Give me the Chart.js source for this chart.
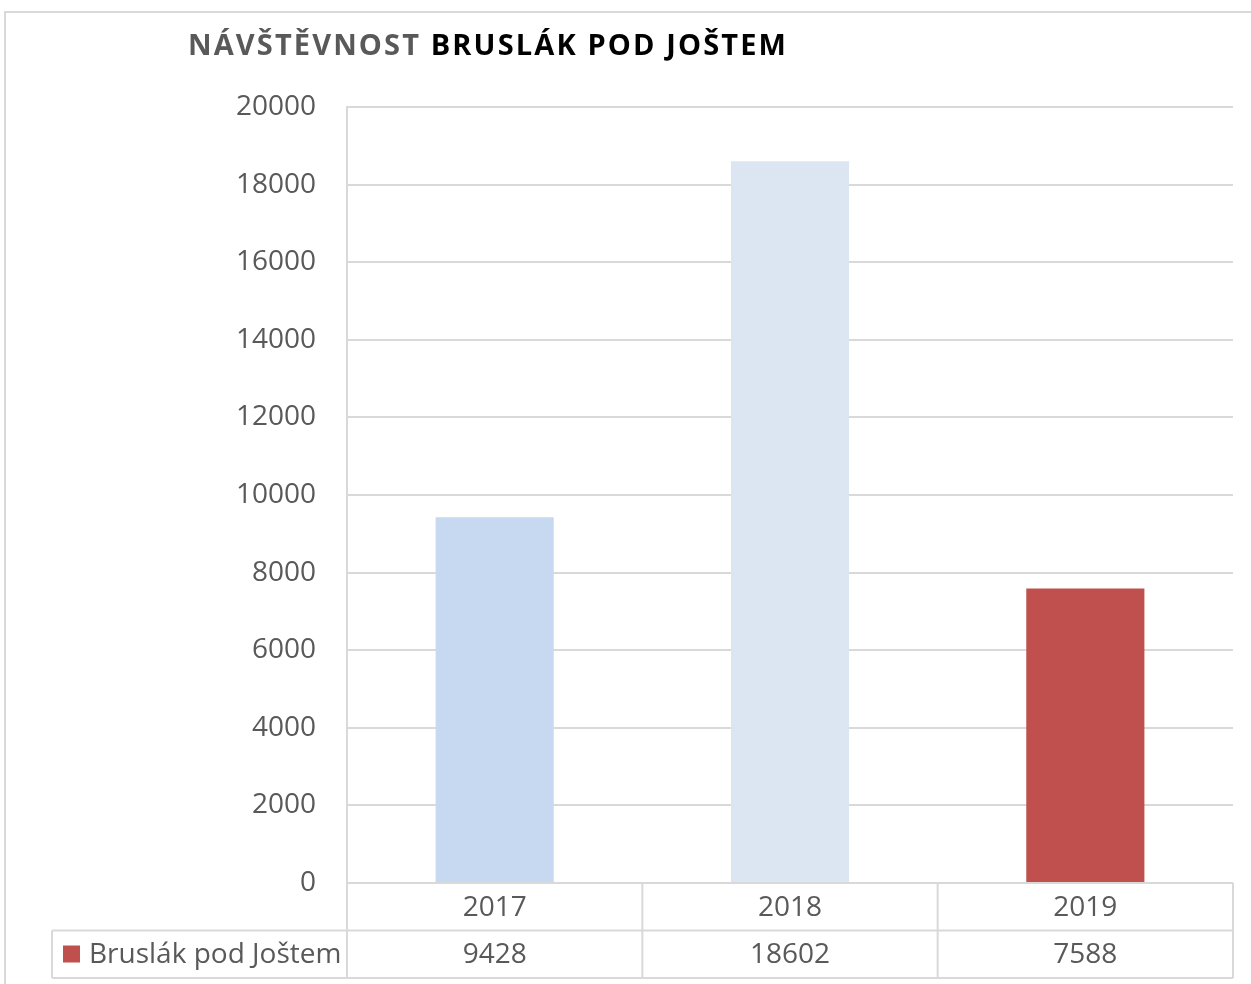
<!DOCTYPE html>
<html>
<head>
<meta charset="utf-8">
<script src="https://cdn.jsdelivr.net/npm/chart.js@4/dist/chart.umd.min.js"></script>
<style>
  body { margin: 0; background: #fff; }
  #wrap { position: relative; width: 1251px; height: 984px; }
</style>
</head>
<body>
<div id="wrap"><canvas id="myChart" width="1251" height="984"></canvas></div>
<script>
// data
var years = ['2017', '2018', '2019'];
var visitors = [9428, 18602, 7588];
var seriesName = 'Bruslák pod Joštem';
var titleGray = 'NÁVŠTĚVNOST ';
var titleDark = 'BRUSLÁK POD JOŠTEM';
var barColors = ['#c6d9f0', '#dce6f2', '#c0504d'];

var FONT = '"Open Sans", sans-serif';
var gridColor = '#d9d9d9';
var textColor = '#595959';

// title + outer frame
var titlePlugin = {
    id: 'titlePlugin',
    beforeDraw: function(chart) {
        var ctx = chart.ctx;
        ctx.save();
        ctx.fillStyle = '#fff';
        ctx.fillRect(0, 0, chart.width, chart.height);
        ctx.strokeStyle = gridColor;
        ctx.lineWidth = 2;
        ctx.beginPath();
        ctx.moveTo(5, chart.height);
        ctx.lineTo(5, 12);
        ctx.lineTo(chart.width, 12);
        ctx.stroke();

        ctx.font = 'bold 29px ' + FONT;
        var full = titleGray + titleDark;
        ctx.letterSpacing = '0px';
        var w = ctx.measureText(full).width;
        var sp = (600 - w) / full.length;
        ctx.letterSpacing = sp + 'px';
        ctx.textBaseline = 'alphabetic';
        ctx.textAlign = 'left';
        ctx.fillStyle = textColor;
        ctx.fillText(titleGray, 188, 55);
        var w1 = ctx.measureText(titleGray).width;
        ctx.fillStyle = '#000';
        ctx.fillText(titleDark, 188 + w1, 55);
        ctx.restore();
    }
};

// data table under the plot
var tablePlugin = {
    id: 'tablePlugin',
    afterDraw: function(chart) {
        var ctx = chart.ctx;
        var area = chart.chartArea;
        var x = chart.scales.x;
        var step = (area.right - area.left) / years.length;
        var top = area.bottom;
        var rowH = 47.5;
        var mid = top + rowH;
        var bot = top + 2 * rowH;
        var legLeft = 52;

        ctx.save();
        ctx.strokeStyle = gridColor;
        ctx.lineWidth = 2;
        ctx.beginPath();
        ctx.moveTo(area.left, mid); ctx.lineTo(area.right, mid);
        ctx.moveTo(legLeft, mid); ctx.lineTo(area.left, mid);
        ctx.moveTo(legLeft, bot); ctx.lineTo(area.right, bot);
        ctx.moveTo(legLeft, mid); ctx.lineTo(legLeft, bot);
        for (var i = 0; i <= years.length; i++) {
            var lx = area.left + i * step;
            ctx.moveTo(lx, top); ctx.lineTo(lx, bot);
        }
        ctx.stroke();

        ctx.font = '28px ' + FONT;
        ctx.fillStyle = textColor;
        ctx.textAlign = 'center';
        ctx.textBaseline = 'middle';
        for (var j = 0; j < years.length; j++) {
            var cx = x.getPixelForValue(j);
            ctx.fillText(years[j], cx, top + rowH / 2 + 1);
            ctx.fillText(String(visitors[j]), cx, mid + rowH / 2 + 1);
        }

        ctx.fillStyle = barColors[2];
        ctx.fillRect(63, mid + 15, 17, 17);
        ctx.fillStyle = textColor;
        ctx.textAlign = 'left';
        ctx.fillText(seriesName, 89, mid + rowH / 2 + 1);
        ctx.restore();
    }
};

var myChart;

function init_chart() {
    var ctx = document.getElementById('myChart').getContext('2d');

    const data = {
        labels: years,
        datasets: [{
            label: seriesName,
            data: visitors,
            backgroundColor: barColors,
            borderWidth: 0,
            barPercentage: 0.4,
            categoryPercentage: 1.0
        }]
    };

    const config = {
        type: 'bar',
        data: data,
        plugins: [titlePlugin, tablePlugin],
        options: {
            responsive: false,
            animation: false,
            events: [],
            layout: { padding: { top: 107, right: 18, bottom: 101, left: 0 } },
            plugins: {
                legend: { display: false },
                title: { display: false },
                tooltip: { enabled: false }
            },
            scales: {
                x: {
                    display: false
                },
                y: {
                    min: 0,
                    max: 20000,
                    ticks: {
                        stepSize: 2000,
                        padding: 31,
                        color: textColor,
                        font: { family: '"Open Sans", sans-serif', size: 28 },
                        callback: function(v) { return String(v); }
                    },
                    grid: {
                        color: gridColor,
                        lineWidth: 2,
                        drawTicks: false
                    },
                    border: { display: true, color: gridColor, width: 2 },
                    afterFit: function(scale) { scale.width = 347; }
                }
            }
        }
    };

    myChart = new Chart(ctx, config);
}

init_chart();
</script>
</body>
</html>
